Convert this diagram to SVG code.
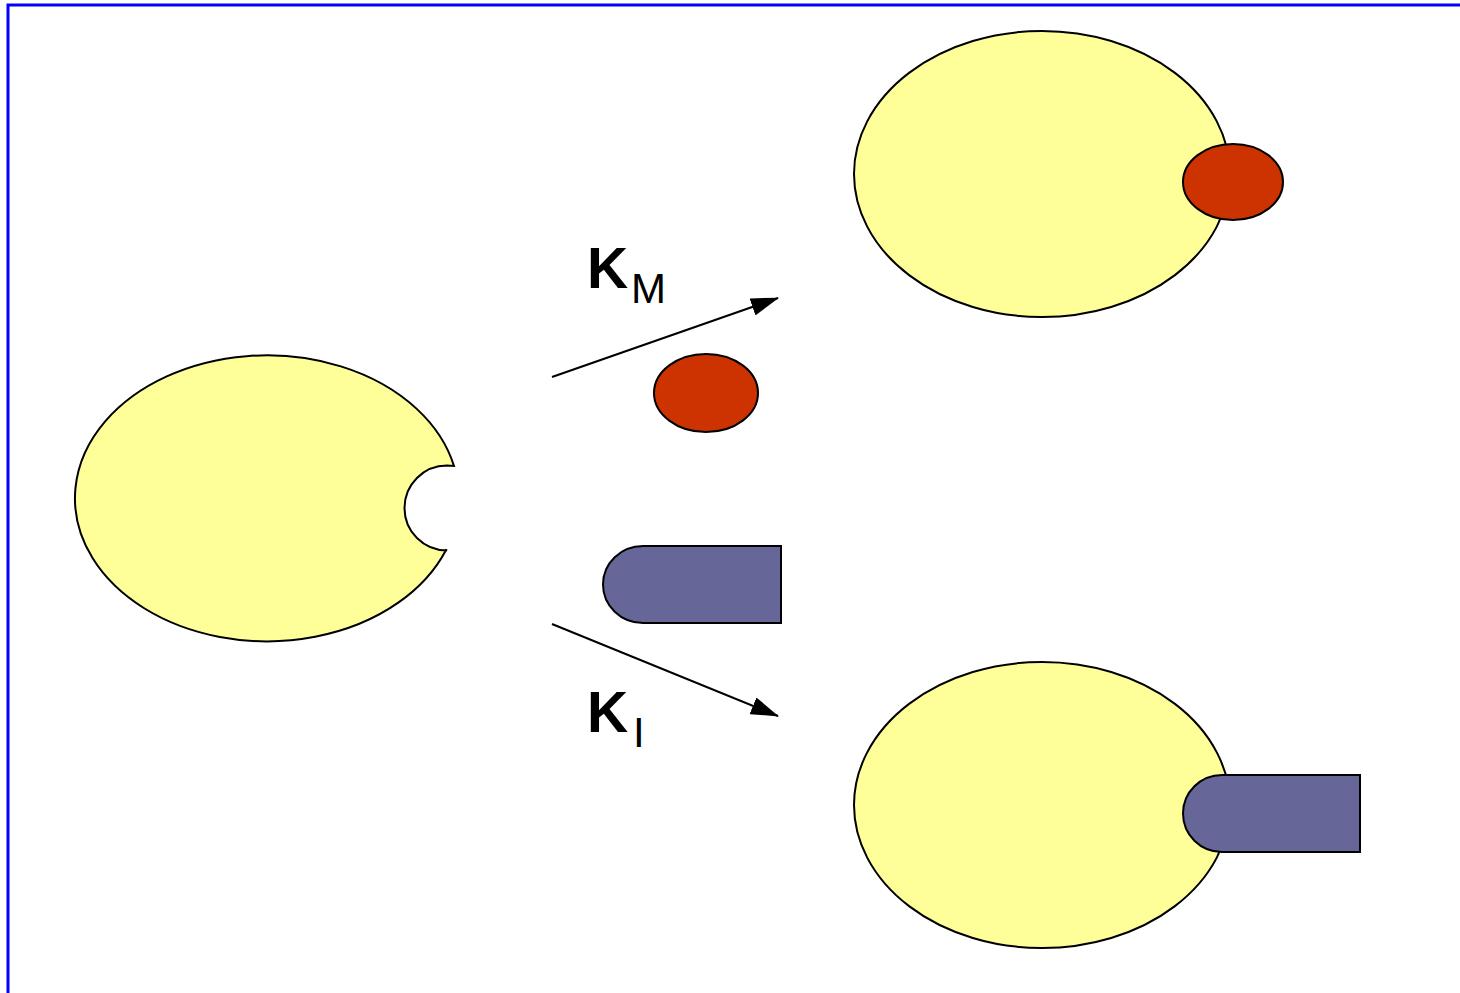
<svg xmlns="http://www.w3.org/2000/svg" width="1460" height="993" viewBox="0 0 1460 993">
  <defs>
    <style>
      .enz { fill: #FFFF99; stroke: #000; stroke-width: 2; }
      .sub { fill: #CC3300; stroke: #000; stroke-width: 2; }
      .inh { fill: #666699; stroke: #000; stroke-width: 2; }
      .arr { stroke: #000; stroke-width: 2; fill: none; marker-end: url(#ah); }
      .lbl { font-family: "Liberation Sans", Arial, sans-serif; fill: #000; }
      .big { font-size: 57px; font-weight: bold; }
      .small { font-size: 42px; font-weight: normal; }
    </style>
    <marker id="ah" viewBox="0 0 28 18" refX="27" refY="9" markerWidth="28" markerHeight="18" markerUnits="userSpaceOnUse" orient="auto">
      <path d="M0,0 L28,9 L0,18 Z" fill="#000"/>
    </marker>
  </defs>
  <rect width="1460" height="993" fill="#fff"/>
  <polyline points="8,993 8,5 1460,5" fill="none" stroke="#0000FF" stroke-width="3"/>

  <g id="free-enzyme">
    <path class="enz" d="M 454,466 A 192 143 0 1 0 446,550 L 447,550.5 A 42.5 42.5 0 0 1 447,465.5 Z"/>
  </g>

  <g id="free-substrate">
    <ellipse class="sub" cx="706" cy="393" rx="52" ry="39"/>
  </g>

  <g id="free-inhibitor">
    <path class="inh" d="M 643,546 L 781,546 L 781,623 L 643,623 A 40 38.5 0 0 1 643,546 Z"/>
  </g>

  <g id="enzyme-substrate-complex">
    <ellipse class="enz" cx="1042" cy="174" rx="188" ry="143"/>
    <ellipse class="sub" cx="1233" cy="182" rx="50" ry="38"/>
  </g>

  <g id="enzyme-inhibitor-complex">
    <ellipse class="enz" cx="1042" cy="805" rx="188" ry="143"/>
    <path class="inh" d="M 1222,775 L 1360,775 L 1360,852 L 1222,852 A 39 38.5 0 0 1 1222,775 Z"/>
  </g>

  <g id="connectors">
    <line class="arr" x1="552" y1="377" x2="778" y2="298"/>
    <line class="arr" x1="552" y1="624" x2="778" y2="716"/>
  </g>

  <g id="labels">
    <text class="lbl big" x="587" y="288">K</text>
    <text class="lbl small" x="631" y="303">M</text>
    <text class="lbl big" x="587" y="732">K</text>
    <text class="lbl small" x="633" y="747">I</text>
  </g>
</svg>
